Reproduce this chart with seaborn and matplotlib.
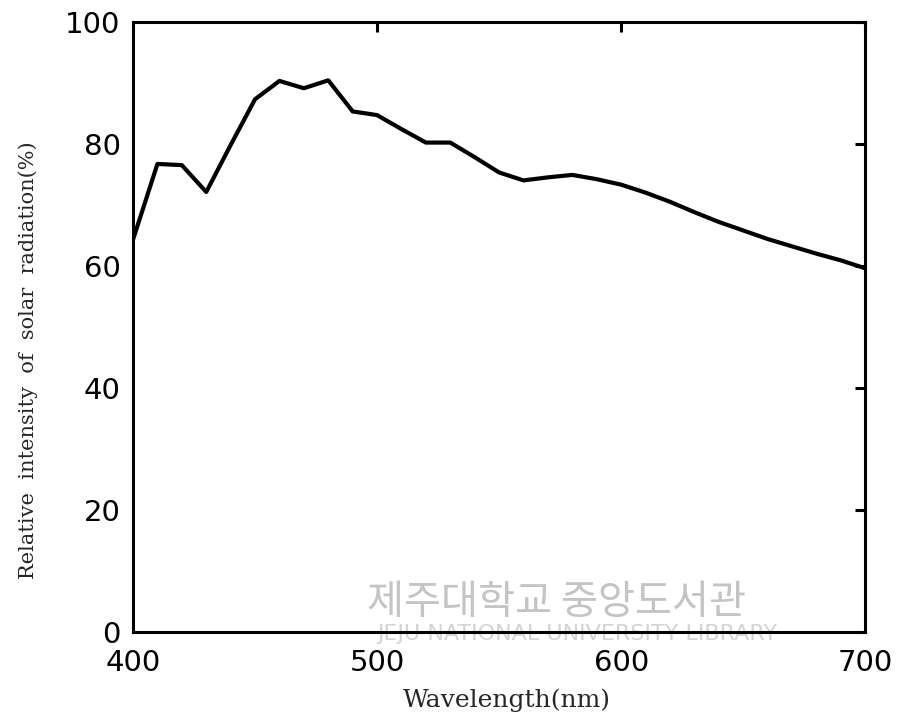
import matplotlib
matplotlib.use("Agg")
import matplotlib.pyplot as plt
import seaborn as sns
import pandas as pd

# wavelength (nm) and relative intensity (%)
wavelength = [400, 410, 420, 430, 440, 450, 460, 470, 480, 490, 500,
              510, 520, 530, 540, 550, 560, 570, 580, 590, 600,
              610, 620, 630, 640, 650, 660, 670, 680, 690, 700]
intensity = [64.3, 76.7, 76.5, 72.1, 79.8, 87.3, 90.3, 89.1, 90.4, 85.3, 84.7,
             82.4, 80.2, 80.2, 77.8, 75.3, 74.0, 74.5, 74.9, 74.2, 73.3,
             72.0, 70.5, 68.8, 67.2, 65.8, 64.4, 63.2, 62.0, 60.9, 59.6]
x_ticks = [400, 500, 600, 700]
y_ticks = [0, 20, 40, 60, 80, 100]

df = pd.DataFrame({'wl': wavelength, 'ri': intensity})

sns.set_style("white")
plt.rcParams['font.family'] = ['DejaVu Sans', 'Noto Sans CJK KR']

fig = plt.figure(figsize=(9.05, 7.24), dpi=100)
ax = fig.add_axes([0.147, 0.127, 0.809, 0.843])

sns.lineplot(x='wl', y='ri', data=df, color='black', linewidth=3, ax=ax)

ax.set_xlim(400, 700)
ax.set_ylim(0, 100)
ax.set_xticks(x_ticks)
ax.set_yticks(y_ticks)
ax.set_xticklabels([str(v) for v in x_ticks], fontsize=21)
ax.set_yticklabels([str(v) for v in y_ticks], fontsize=21)
ax.tick_params(axis='both', direction='in', length=7, width=2.2,
               top=True, right=True, colors='black')
ax.tick_params(axis='x', pad=12)
ax.tick_params(axis='y', pad=9)
for s in ax.spines.values():
    s.set_linewidth(2.2)
    s.set_color('black')

ax.set_xlabel('Wavelength(nm)', fontsize=18, family='DejaVu Serif', va='center')
ax.xaxis.set_label_coords(0.51, -0.112)
ax.set_ylabel('Relative  intensity  of  solar  radiation(%)', fontsize=15,
              family='DejaVu Serif', va='center')
ax.yaxis.set_label_coords(-0.143, 0.446)

# library watermark
ax.text(0.615, 0.14, '제주대학교 중앙도서관', transform=fig.transFigure,
        fontsize=29, color='#c4c4c4', family=['Noto Sans CJK KR'],
        ha='center', va='bottom', zorder=0, clip_on=False)
ax.text(0.638, 0.125, 'JEJU NATIONAL UNIVERSITY LIBRARY', transform=fig.transFigure,
        fontsize=16, color='#d4d4d4', family=['DejaVu Sans'],
        ha='center', va='center', zorder=0, clip_on=False)

plt.savefig('out.png', dpi=100)
